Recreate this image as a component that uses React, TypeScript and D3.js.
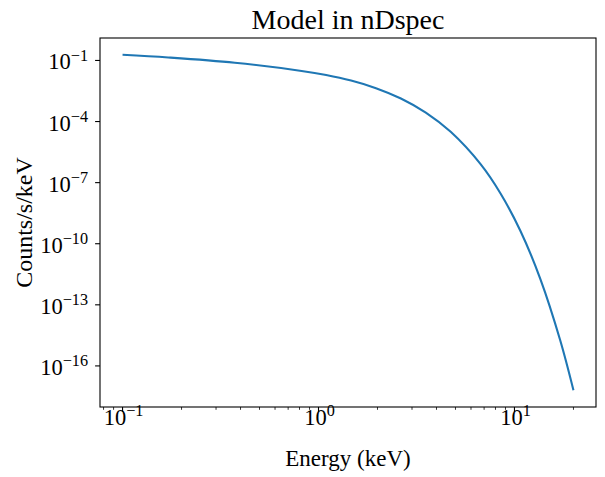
import * as React from 'react'
import * as d3 from 'd3'

// model spectrum
const energies = [0.1, 0.171, 0.374, 0.82, 1.094, 1.466, 1.965, 2.633, 3.528, 4.727, 6.716, 8.49, 10.73, 13.56, 17.13, 20];
const counts = [0.19, 0.14, 0.0771, 0.0306, 0.0193, 0.01026, 4.35e-3, 1.35e-3, 2.75e-4, 3.12e-5, 8.07e-7, 2.93e-8, 4.23e-10, 1.84e-12, 1.77e-15, 6.4e-18];
const xTickExps = [-1, 0, 1];
const yTickExps = [-16, -13, -10, -7, -4, -1];

const width = 605;
const height = 477;
const margin = {left: 100, right: 9, top: 38, bottom: 70};
const font = '"Liberation Serif", "DejaVu Serif", serif';

// matplotlib style 5% padding in log space
const logPad = (lo: number, hi: number) => {
    const a = Math.log10(lo), b = Math.log10(hi);
    const p = (b - a) * 0.05;
    return [Math.pow(10, a - p), Math.pow(10, b + p)];
}

const Pow10 = ({exp, size}: {exp: number, size: number}) => (
    <>
        <tspan>10</tspan>
        <tspan fontSize={size * 0.72} dy={-size * 0.38}>{exp < 0 ? '\u2212' + (-exp) : exp}</tspan>
    </>
)

const App = () => {
    const x = d3.scaleLog()
        .domain(logPad(d3.min(energies)!, d3.max(energies)!))
        .range([margin.left, width - margin.right]);
    const y = d3.scaleLog()
        .domain(logPad(d3.min(counts)!, d3.max(counts)!))
        .range([height - margin.bottom, margin.top]);

    const pts: [number, number][] = energies.map((e, i) => [x(e), y(counts[i])]);
    const line = d3.line().curve(d3.curveCatmullRom.alpha(0.5));

    const [x0, x1] = x.domain();
    let minors: number[] = [];
    for (let n = -2; n <= 2; n++) {
        for (let k = 2; k <= 9; k++) {
            const v = k * Math.pow(10, n);
            if (v >= x0 && v <= x1) minors.push(v);
        }
    }

    const bottom = height - margin.bottom;
    const tickSize = 22.5;

    return (
        <div style={{position: 'absolute', left: 0, top: 0}}>
            <svg width={width} height={height} style={{display: 'block', background: '#fff'}}>
                <text x={(margin.left + width - margin.right) / 2} y={29} textAnchor="middle"
                      fontFamily={font} fontSize={28}>Model in nDspec</text>

                <path d={line(pts)!} fill="none" stroke="#1f77b4" strokeWidth={2.1}/>

                <rect x={margin.left} y={margin.top} width={width - margin.left - margin.right}
                      height={bottom - margin.top} fill="none" stroke="#000" strokeWidth={1.1}/>

                {minors.map((v, i) => (
                    <line key={'m' + i} x1={x(v)} x2={x(v)} y1={bottom} y2={bottom + 2.8}
                          stroke="#000" strokeWidth={0.8}/>
                ))}
                {xTickExps.map(e => (
                    <g key={'x' + e}>
                        <line x1={x(Math.pow(10, e))} x2={x(Math.pow(10, e))} y1={bottom} y2={bottom + 4.9}
                              stroke="#000" strokeWidth={1.1}/>
                        <text x={x(Math.pow(10, e)) + 1} y={425} textAnchor="middle" fontFamily={font} fontSize={tickSize}>
                            <Pow10 exp={e} size={tickSize}/>
                        </text>
                    </g>
                ))}
                {yTickExps.map(e => (
                    <g key={'y' + e}>
                        <line x1={margin.left - 4.9} x2={margin.left} y1={y(Math.pow(10, e))} y2={y(Math.pow(10, e))}
                              stroke="#000" strokeWidth={1.1}/>
                        <text x={88} y={y(Math.pow(10, e)) + 9} textAnchor="end" fontFamily={font} fontSize={tickSize}>
                            <Pow10 exp={e} size={tickSize}/>
                        </text>
                    </g>
                ))}

                <text x={(margin.left + width - margin.right) / 2} y={466} textAnchor="middle"
                      fontFamily={font} fontSize={23}>Energy (keV)</text>
                <text transform={`translate(32, ${(margin.top + bottom) / 2}) rotate(-90)`} textAnchor="middle"
                      fontFamily={font} fontSize={24}>Counts/s/keV</text>
            </svg>
        </div>
    )
}

export default App;
